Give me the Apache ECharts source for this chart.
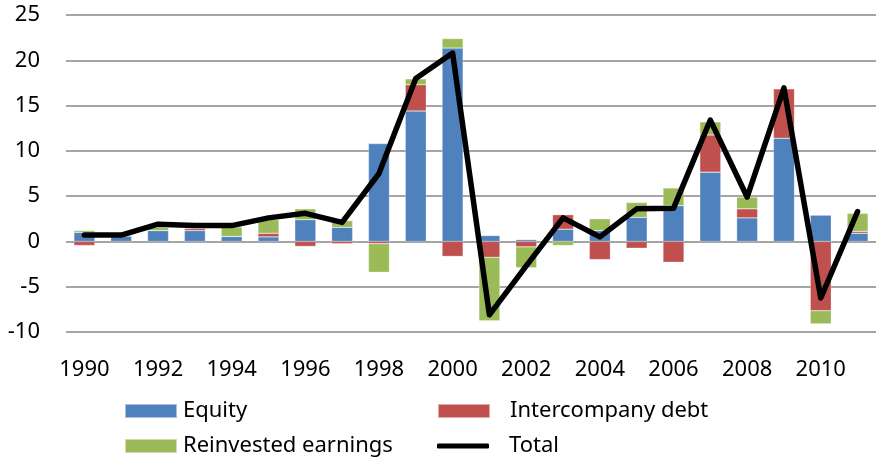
<!DOCTYPE html>
<html>
<head>
<meta charset="utf-8">
<script src="https://cdn.jsdelivr.net/npm/echarts@6/dist/echarts.min.js"></script>
<style>
  html, body { margin: 0; padding: 0; background: #fff; }
  #chart { width: 876px; height: 458px; }
</style>
</head>
<body>
<div id="chart"></div>
<script>
const years = ['1990','1991','1992','1993','1994','1995','1996','1997','1998','1999','2000',
  '2001','2002','2003','2004','2005','2006','2007','2008','2009','2010','2011'];

// positive / negative parts are stacked by sign, like the original
const equity = [1.0, 0.6, 1.2, 1.2, 0.55, 0.5, 2.4, 1.55, 10.8, 14.4, 21.35,
  0.65, 0.2, 1.35, 1.2, 2.65, 3.95, 7.65, 2.6, 11.4, 2.9, 0.9];
const debt = [-0.45, 0, 0, 0.25, 0, 0.4, -0.55, -0.25, -0.25, 2.9, -1.65,
  -1.75, -0.6, 1.6, -2.0, -0.75, -2.3, 4.1, 1.0, 5.45, -7.65, 0.2];
const reinvested = [0.2, 0.1, 0.35, 0, 1.05, 1.5, 1.2, 0.75, -3.15, 0.65, 1.05,
  -7.0, -2.3, -0.45, 1.3, 1.65, 1.95, 1.45, 1.3, 0, -1.45, 2.0];
const total = [0.7, 0.7, 1.9, 1.75, 1.75, 2.6, 3.1, 2.1, 7.5, 18.0, 20.8,
  -8.1, -2.7, 2.6, 0.5, 3.6, 3.65, 13.4, 4.9, 16.95, -6.25, 3.3];

const font = 'Noto Sans';
const chart = echarts.init(document.getElementById('chart'));

function legendAt(name, left, top, gap, extra) {
  return Object.assign({
    data: [name],
    left: left, top: top,
    itemWidth: 52, itemHeight: 14, itemGap: 0,
    textStyle: { fontFamily: font, fontSize: 22, color: '#000', padding: [0, 0, 0, gap - 5] },
    selectedMode: false
  }, extra || {});
}

chart.setOption({
  animation: false,
  grid: { left: 66, right: -8, top: 15, bottom: 126 },
  legend: [
    legendAt('Equity', 119, 395, 6, { icon: 'rect' }),
    legendAt('Intercompany debt', 432, 395, 20, { icon: 'rect' }),
    legendAt('Reinvested earnings', 119, 430, 6, { icon: 'rect' }),
    legendAt('Total', 432, 430, 20, { icon: 'roundRect', itemHeight: 5 })
  ],
  xAxis: {
    type: 'category',
    data: years,
    axisLine: { show: false, onZero: false },
    axisTick: { show: false },
    axisLabel: { interval: 1, margin: 27, fontFamily: font, fontSize: 22, color: '#000' }
  },
  yAxis: {
    type: 'value',
    min: -10, max: 25, interval: 5,
    axisLine: { show: false },
    axisTick: { show: false },
    splitLine: { lineStyle: { color: '#878787', width: 1.5 } },
    axisLabel: { margin: 26, fontFamily: font, fontSize: 22, color: '#000' }
  },
  series: [
    { name: 'Equity', type: 'bar', stack: 'fdi', data: equity, barWidth: 21,
      itemStyle: { color: '#4F81BD', borderColor: 'rgba(255,255,255,0.5)', borderWidth: 0.5 } },
    { name: 'Intercompany debt', type: 'bar', stack: 'fdi', data: debt, barWidth: 21,
      itemStyle: { color: '#C0504D', borderColor: 'rgba(255,255,255,0.5)', borderWidth: 0.5 } },
    { name: 'Reinvested earnings', type: 'bar', stack: 'fdi', data: reinvested, barWidth: 21,
      itemStyle: { color: '#9BBB59', borderColor: 'rgba(255,255,255,0.5)', borderWidth: 0.5 } },
    { name: 'Total', type: 'line', data: total, symbol: 'none', z: 5,
      itemStyle: { color: '#000' },
      lineStyle: { color: '#000', width: 5.5, join: 'round', cap: 'round' } }
  ]
});
</script>
</body>
</html>
